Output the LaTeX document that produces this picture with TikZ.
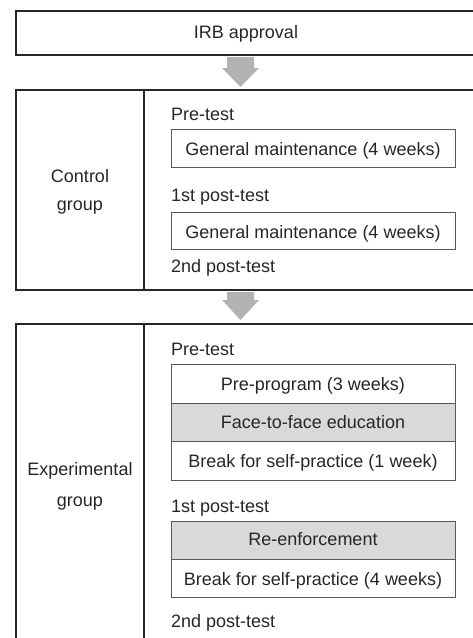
\documentclass[tikz,border=0pt]{standalone}
\usepackage{fontspec}
\setmainfont{Liberation Sans}
\begin{document}
\begin{tikzpicture}[x=1pt,y=-1pt,
  frame/.style={draw=black!85,line width=1.3pt},
  inbox/.style={draw=black!65,line width=0.9pt},
  shade/.style={inbox,fill=black!15},
  bigarrow/.style={fill=black!30,draw=none},
  lbl/.style={anchor=base west,inner sep=0pt,text=black!85,font=\fontsize{18}{20}\selectfont},
  clbl/.style={anchor=base,inner sep=0pt,text=black!85,font=\fontsize{18}{20}\selectfont}]
\useasboundingbox (0,0) rectangle (473,638);
\clip (0,0) rectangle (473,638);
% IRB
\draw[frame] (16,11) rectangle (490,55);
\node[clbl] (irb) at (246,38) {IRB approval};
% arrow 1
\fill[bigarrow] (227,57) -- (254,57) -- (254,68) -- (259,68) -- (240.5,87) -- (222,68) -- (227,68) -- cycle;
% Control group
\draw[frame] (16,90) rectangle (490,290);
\draw[frame] (144,90) -- (144,290);
\node[clbl] (ctl1) at (80,182) {Control};
\node[clbl] (ctl2) at (80,210) {group};
\node[lbl] (cpre) at (171,120) {Pre-test};
\draw[inbox] (171,129) rectangle (455,167);
\node[clbl] (gm1) at (313,155) {General maintenance (4 weeks)};
\node[lbl] (cp1) at (171,201) {1st post-test};
\draw[inbox] (171,212) rectangle (455,249);
\node[clbl] (gm2) at (313,238) {General maintenance (4 weeks)};
\node[lbl] (cp2) at (171,272) {2nd post-test};
% arrow 2
\fill[bigarrow] (227,292) -- (254,292) -- (254,300) -- (259,300) -- (240.5,320) -- (222,300) -- (227,300) -- cycle;
% Experimental group
\draw[frame] (16,324) rectangle (490,660);
\draw[frame] (144,324) -- (144,660);
\node[clbl] (exp1) at (80,475) {Experimental};
\node[clbl] (exp2) at (80,506) {group};
\node[lbl] (epre) at (171,355) {Pre-test};
\draw[inbox] (171,364) rectangle (455,403);
\draw[shade] (171,403) rectangle (455,441);
\draw[inbox] (171,441) rectangle (455,480);
\node[clbl] (pp) at (313,390) {Pre-program (3 weeks)};
\node[clbl] (ff) at (313,428) {Face-to-face education};
\node[clbl] (b1) at (313,467) {Break for self-practice (1 week)};
\node[lbl] (ep1) at (171,512) {1st post-test};
\draw[shade] (171,521) rectangle (455,559);
\draw[inbox] (171,559) rectangle (455,597);
\node[clbl] (re) at (313,545) {Re-enforcement};
\node[clbl] (b4) at (313,585) {Break for self-practice (4 weeks)};
\node[lbl] (ep2) at (171,627) {2nd post-test};
\end{tikzpicture}
\end{document}
